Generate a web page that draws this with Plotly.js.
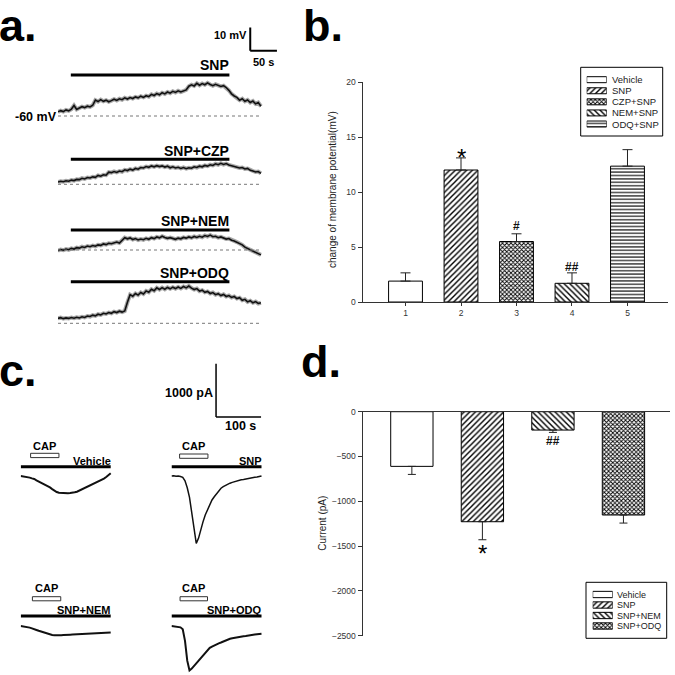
<!DOCTYPE html>
<html><head><meta charset="utf-8">
<script src="https://cdn.plot.ly/plotly-3.0.1.min.js"></script>
<style>html,body{margin:0;padding:0;background:#fff}#chart{width:675px;height:675px}</style>
</head><body><div id="chart"></div>
<script>
// ---------------- DATA ----------------
// Panel b: change of membrane potential (mV), mean and SEM
const bTicks = [1, 2, 3, 4, 5];
const bGroups = ['Vehicle', 'SNP', 'CZP+SNP', 'NEM+SNP', 'ODQ+SNP'];
const bMean = [1.9, 12.0, 5.5, 1.7, 12.35];
const bSem = [0.75, 1.1, 0.7, 0.95, 1.5];
const bSig = ['', '*', '#', '##', ''];

// Panel d: capsaicin-evoked current (pA), mean and SEM
const dTicks = [1, 2, 3, 4];
const dGroups = ['Vehicle', 'SNP', 'SNP+NEM', 'SNP+ODQ'];
const dMean = [-610, -1228, -205, -1153];
const dSem = [90, 201, 26, 90];
const dSig = ['', '*', '##', ''];

// Panel a: membrane potential traces, change from -60 mV (mV), sampled every 5 s
const aSampleInterval = 5;
const aLabels = ['SNP', 'SNP+CZP', 'SNP+NEM', 'SNP+ODQ'];
const aDrugOn = [24, 321]; // s
const aSNP = [1.8,2.3,1.9,2.6,2.2,2.9,4.5,2.8,3.4,4.0,
  3.6,4.2,3.9,4.6,6.8,6.2,7.0,6.3,6.8,6.1,
  6.6,7.2,6.7,7.4,7.0,7.8,7.3,7.9,7.5,8.2,
  7.8,8.5,8.0,8.7,8.3,9.3,8.8,9.6,9.1,10.0,
  9.5,10.3,9.8,10.6,10.1,10.8,10.3,10.6,11.2,12.8,
  13.4,12.9,14.0,13.2,13.9,13.4,14.2,13.5,13.0,13.6,
  13.1,12.7,13.0,12.2,11.0,9.5,8.6,8.0,6.8,7.4,
  6.3,6.9,5.8,6.4,5.2,5.8,4.2];
const aCZP = [1.0,1.3,1.1,1.5,1.3,1.8,1.6,2.1,2.0,2.6,
  2.3,2.9,2.7,3.2,3.0,3.8,3.5,4.1,3.9,5.2,
  5.0,5.5,5.1,5.7,5.4,6.2,5.9,6.5,6.1,6.8,
  6.5,7.2,7.0,7.6,7.3,7.9,7.5,8.0,7.6,7.9,
  7.4,7.8,7.1,7.5,7.0,7.3,6.8,7.2,6.7,7.1,
  6.9,7.5,7.2,7.8,7.5,8.1,7.8,8.4,8.1,8.8,
  8.4,9.0,8.5,8.9,8.3,8.0,7.6,7.3,7.0,7.2,
  6.6,6.8,6.0,5.7,5.3,5.5,4.7];
const aNEM = [-0.3,0.2,-0.1,0.4,0.1,0.7,0.4,1.0,0.8,1.4,
  1.1,1.7,1.4,1.9,1.6,2.2,2.0,2.6,2.3,2.9,
  2.7,3.2,3.4,3.0,4.2,5.3,4.8,5.2,4.5,4.9,
  4.3,4.7,4.4,5.0,4.6,5.3,4.9,5.6,5.2,5.9,
  5.4,5.0,5.3,4.8,4.6,5.1,4.8,5.4,5.1,5.6,
  5.2,5.8,5.4,5.9,5.5,6.2,5.8,6.4,5.7,5.9,
  5.3,5.6,5.0,4.7,4.9,4.2,3.9,3.4,2.9,2.2,
  1.2,0.6,0.1,-0.6,-1.1,-1.6,-2.1];
const aODQ = [2.1,2.4,2.0,2.3,2.1,2.5,2.2,2.6,2.3,2.8,
  2.5,3.1,2.9,3.5,3.2,3.9,3.6,4.3,4.0,4.6,
  4.3,5.0,4.6,5.2,4.8,5.3,9.0,12.3,11.6,12.8,
  12.1,13.2,12.6,13.9,13.3,14.6,14.0,15.2,14.5,15.3,
  14.6,15.4,14.8,15.5,14.9,15.6,15.0,15.8,15.2,16.0,
  15.1,14.5,14.9,13.8,14.2,13.3,13.7,12.8,13.2,12.3,
  12.7,11.9,12.4,11.5,11.9,11.1,11.5,10.6,11.0,9.9,
  10.3,9.2,9.7,8.8,9.3,8.5,8.8];

// Panel c: capsaicin-evoked current traces (pA), sampled every 5 s
const cSampleInterval = 5;
const cLabels = ['Vehicle', 'SNP', 'SNP+NEM', 'SNP+ODQ'];
const cCapStart = [22, 18, 26, 19]; // s
const cCapEnd = [85, 81, 89, 80];   // s
const cBarEnd = 200; // s
const cVehicle = [0,-5,-15,-20,-30,-45,-55,-80,-100,-120,-140,-165,-185,-215,-245,-275,-300,-315,-320,-322,-325,-322,-320,-318,-305,-295,-275,-255,-235,-215,-195,-180,-160,-140,-120,-100,-75,-50,-20,15,50];
const cSNP = [0,5,-5,0,-10,-25,-90,-220,-400,-700,-1000,-1265,-1170,-1000,-860,-730,-630,-530,-450,-390,-330,-280,-230,-200,-175,-150,-135,-120,-105,-95,-85,-70,-65,-55,-45,-40,-35,-25,-20,-10,0];
const cNEM = [0,-5,-10,-20,-30,-45,-55,-75,-90,-105,-120,-135,-150,-160,-170,-175,-178,-176,-172,-168,-170,-165,-162,-160,-158,-155,-156,-152,-150,-151,-148,-146,-144,-142,-140,-137,-135,-132,-130,-128,-124];
const cODQ = [0,-5,-10,-15,-25,-60,-280,-650,-835,-800,-750,-700,-645,-590,-540,-490,-440,-410,-385,-360,-340,-325,-310,-290,-270,-255,-240,-230,-220,-215,-205,-200,-192,-188,-178,-172,-168,-160,-155,-150,-145];

// Scale bars
const aScaleMv = 10, aScaleS = 50;
const cScalePa = 1000, cScaleS = 100;

// ---------------- LAYOUT HELPERS ----------------
const W = 675, H = 675;
const PX = v => v / W;
const PY = v => 1 - v / H;
const FONT = 'Liberation Sans, Arial, Helvetica, sans-serif';

// styles (bar fills)
const bPattern = {shape: ['', '/', 'x', '\\', '-'], size: [6, 4, 3, 4, 3.4], solidity: [0.3, 0.35, 0.5, 0.35, 0.32]};
const dPattern = {shape: ['', '/', '\\', 'x'], size: [6, 4, 4, 3], solidity: [0.3, 0.35, 0.35, 0.5]};

// panel a geometry
const A_PX_PER_S = 0.534, A_PX_PER_MV = 2.33;
const aXpx = [58, 280];
const aYrange = [-4, 40];
const aBase = [116, 184.3, 250, 323.3];
const aBarPy = [75, 159.3, 230, 281.7];
const aLabelPy = [65, 150.7, 221, 273];
function aDomain(base) {
  return [PY(base - aYrange[0] * A_PX_PER_MV), PY(base - aYrange[1] * A_PX_PER_MV)];
}
// panel c geometry
const C_PX_PER_S = 0.45, C_PX_PER_PA = 0.0533;
const cXrange = [0, 205];
const cXleft = [20.7, 171.5];
const cYbase = [476, 626];
const cYranges = [[-1400, 2200], [-900, 300]];
function cDomain(base, r) { return [PY(base - r[0] * C_PX_PER_PA), PY(base - r[1] * C_PX_PER_PA)]; }

const tA = aSNP.map((_, i) => i * aSampleInterval);
const tC = cVehicle.map((_, i) => i * cSampleInterval);

const hidden = {visible: false, fixedrange: true};

const tickFont = {family: FONT, size: 8.5, color: '#333'};
const axisCommon = {showgrid: false, zeroline: false, showline: true, linecolor: '#333', linewidth: 1,
  ticks: 'outside', ticklen: 4, tickcolor: '#333', tickwidth: 1, tickfont: tickFont, fixedrange: true};

// ---------------- TRACES ----------------
const traces = [];
traces.push({type: 'bar', x: bTicks, y: bMean, xaxis: 'x', yaxis: 'y', width: 0.61,
  marker: {color: '#fff', line: {color: '#000', width: 1},
    pattern: {shape: bPattern.shape, size: bPattern.size, solidity: bPattern.solidity, fgcolor: '#000', bgcolor: '#fff', fillmode: 'replace'}},
  error_y: {type: 'data', symmetric: false, array: bSem, arrayminus: bSem.map(() => 0), color: '#222', thickness: 1, width: 5},
  hoverinfo: 'skip'});
traces.push({type: 'bar', x: dTicks, y: dMean, xaxis: 'x2', yaxis: 'y2', width: 0.6,
  marker: {color: '#fff', line: {color: '#000', width: 1},
    pattern: {shape: dPattern.shape, size: dPattern.size, solidity: dPattern.solidity, fgcolor: '#000', bgcolor: '#fff', fillmode: 'replace'}},
  error_y: {type: 'data', symmetric: false, array: dSem.map(() => 0), arrayminus: dSem, color: '#222', thickness: 1, width: 4},
  hoverinfo: 'skip'});
[aSNP, aCZP, aNEM, aODQ].forEach((arr, i) => {
  // soft grey halo (recording noise look) under the black trace
  traces.push({type: 'scatter', mode: 'lines', x: tA, y: arr, xaxis: 'x3', yaxis: 'y' + (3 + i),
    line: {color: 'rgba(60,60,60,0.45)', width: 4}, hoverinfo: 'skip'});
  traces.push({type: 'scatter', mode: 'lines', x: tA, y: arr, xaxis: 'x3', yaxis: 'y' + (3 + i),
    line: {color: '#111', width: 1.6}, hoverinfo: 'skip'});
});
const cSets = [[cVehicle, 'x4', 'y7'], [cSNP, 'x5', 'y7'], [cNEM, 'x4', 'y8'], [cODQ, 'x5', 'y8']];
cSets.forEach(([arr, xa, ya], i) => {
  traces.push({type: 'scatter', mode: 'lines', x: tC, y: arr, xaxis: xa, yaxis: ya,
    line: {color: '#111', width: i === 1 ? 1.5 : 2}, hoverinfo: 'skip'});
});
// legend swatches (b, d)
traces.push({type: 'bar', orientation: 'h', x: bGroups.map(() => 1), y: bGroups, xaxis: 'x6', yaxis: 'y9', width: 0.54,
  marker: {color: '#fff', line: {color: '#000', width: 1},
    pattern: {shape: bPattern.shape, size: bPattern.size, solidity: bPattern.solidity, fgcolor: '#000', bgcolor: '#fff', fillmode: 'replace'}},
  hoverinfo: 'skip'});
traces.push({type: 'bar', orientation: 'h', x: dGroups.map(() => 1), y: dGroups, xaxis: 'x7', yaxis: 'y10', width: 0.6,
  marker: {color: '#fff', line: {color: '#000', width: 1},
    pattern: {shape: dPattern.shape, size: dPattern.size, solidity: dPattern.solidity, fgcolor: '#000', bgcolor: '#fff', fillmode: 'replace'}},
  hoverinfo: 'skip'});

// ---------------- SHAPES ----------------
const shapes = [];
aLabels.forEach((_, i) => {
  shapes.push({type: 'line', xref: 'x3', yref: 'paper', x0: aDrugOn[0], x1: aDrugOn[1], y0: PY(aBarPy[i]), y1: PY(aBarPy[i]), line: {color: '#000', width: 3}});
  shapes.push({type: 'line', xref: 'x3', yref: 'y' + (3 + i), x0: 0, x1: tA[tA.length - 1], y0: 0, y1: 0, line: {color: '#777', width: 1, dash: 'dot'}});
});
// panel a scale bar
const aScaleT = 360, aScaleY = 28;
shapes.push({type: 'line', xref: 'x3', yref: 'y3', x0: aScaleT, x1: aScaleT, y0: aScaleY, y1: aScaleY + aScaleMv, line: {color: '#000', width: 2}});
shapes.push({type: 'line', xref: 'x3', yref: 'y3', x0: aScaleT, x1: aScaleT + aScaleS, y0: aScaleY, y1: aScaleY, line: {color: '#000', width: 2}});
// panel c bars and CAP boxes
const cXref = ['x4', 'x5', 'x4', 'x5'];
const cBarPy = [466.7, 466.7, 616, 616];
const cCapPy = [[453.3, 457.6], [454, 458.3], [596.7, 600.8], [596.7, 600.8]];
cLabels.forEach((_, i) => {
  shapes.push({type: 'line', xref: cXref[i], yref: 'paper', x0: 0, x1: cBarEnd, y0: PY(cBarPy[i]), y1: PY(cBarPy[i]), line: {color: '#000', width: 3}});
  shapes.push({type: 'rect', xref: cXref[i], yref: 'paper', x0: cCapStart[i], x1: cCapEnd[i], y0: PY(cCapPy[i][1]), y1: PY(cCapPy[i][0]), line: {color: '#333', width: 1}, fillcolor: '#fff'});
});
// panel c scale bar
const cScaleT = 99, cScaleY = 1107;
shapes.push({type: 'line', xref: 'x5', yref: 'y7', x0: cScaleT, x1: cScaleT, y0: cScaleY, y1: cScaleY + cScalePa, line: {color: '#000', width: 1.5}});
shapes.push({type: 'line', xref: 'x5', yref: 'y7', x0: cScaleT, x1: cScaleT + cScaleS, y0: cScaleY, y1: cScaleY, line: {color: '#000', width: 1.5}});
// legend boxes
shapes.push({type: 'rect', xref: 'paper', yref: 'paper', x0: PX(580.7), x1: PX(662.7), y0: PY(136), y1: PY(67.3), line: {color: '#000', width: 1}});
shapes.push({type: 'rect', xref: 'paper', yref: 'paper', x0: PX(586), x1: PX(666.7), y0: PY(638.3), y1: PY(582.3), line: {color: '#000', width: 1}});

// ---------------- ANNOTATIONS ----------------
const ann = [];
function txt(o) { return Object.assign({showarrow: false, xref: 'paper', yref: 'paper', xanchor: 'center', yanchor: 'middle'}, o); }
const bold = (s) => ({family: FONT, size: s, color: '#000', weight: 'bold'});
// panel letters (box top at the page edge, baseline near the reference)
const letter = (t, x, yTop) => txt({text: '<b>' + t + '</b>', x: PX(x), y: PY(yTop), xanchor: 'left', yanchor: 'top', borderpad: 0, borderwidth: 0, font: bold(45)});
ann.push(letter('a.', -1, 0));
ann.push(letter('b.', 303, 0));
ann.push(letter('c.', -1, 344.5));
ann.push(letter('d.', 301, 335.5));
// panel a labels
aLabels.forEach((lab, i) => {
  ann.push(txt({text: '<b>' + lab + '</b>', xref: 'x3', x: aDrugOn[1], xanchor: 'right', xshift: 2, y: PY(aLabelPy[i]), font: bold(14)}));
});
ann.push(txt({text: '<b>-60 mV</b>', x: PX(59), xanchor: 'right', yref: 'y3', y: 0, yshift: -1, font: bold(12.5)}));
ann.push(txt({text: '<b>10 mV</b>', x: PX(249), xanchor: 'right', y: PY(35), font: bold(11)}));
ann.push(txt({text: '<b>50 s</b>', x: PX(263.5), y: PY(62), font: bold(11)}));
// panel c labels
cLabels.forEach((lab, i) => {
  ann.push(txt({text: '<b>' + lab + '</b>', xref: cXref[i], x: cBarEnd, xanchor: 'right', xshift: 2, y: PY(i < 2 ? 460.7 : 610), font: bold(11)}));
  ann.push(txt({text: '<b>CAP</b>', xref: cXref[i], x: (cCapStart[i] + cCapEnd[i]) / 2, y: PY(i < 2 ? 445.5 : 588), font: bold(11)}));
});
ann.push(txt({text: '<b>1000 pA</b>', x: PX(215), xanchor: 'right', y: PY(393.3), font: bold(12.5)}));
ann.push(txt({text: '<b>100 s</b>', x: PX(240), y: PY(426), font: bold(12.5)}));
// axis titles
ann.push(txt({text: 'change of membrane potential(mV)', x: PX(333), y: PY(190), textangle: -90, font: {family: FONT, size: 10, color: '#222'}}));
ann.push(txt({text: 'Current (pA)', x: PX(321.7), y: PY(523), textangle: -90, font: {family: FONT, size: 10, color: '#222'}}));
// significance marks
bSig.forEach((s, i) => {
  if (!s) return;
  const star = s === '*';
  ann.push(txt({text: s, xref: 'x', yref: 'y', x: bTicks[i], y: bMean[i] + bSem[i],
    yshift: star ? 0.5 : (i === 2 ? 7.5 : 5.7),
    font: star ? {family: FONT, size: 24, color: '#000'} : {family: FONT, size: 12, color: '#111', weight: 'bold'}}));
});
dSig.forEach((s, i) => {
  if (!s) return;
  const star = s === '*';
  ann.push(txt({text: s, xref: 'x2', yref: 'y2', x: dTicks[i], y: dMean[i] - dSem[i],
    yshift: star ? -13.9 : -8.3,
    font: star ? {family: FONT, size: 24, color: '#000'} : {family: FONT, size: 12, color: '#111', weight: 'bold'}}));
});
// legend labels
bGroups.forEach((g, i) => ann.push(txt({text: g, x: PX(610), xanchor: 'left', yref: 'y9', y: i, font: {family: FONT, size: 9.5, color: '#222'}})));
dGroups.forEach((g, i) => ann.push(txt({text: g, x: PX(615), xanchor: 'left', yref: 'y10', y: i, font: {family: FONT, size: 9, color: '#222'}})));

// ---------------- LAYOUT ----------------
const layout = {
  width: W, height: H, margin: {l: 0, r: 0, t: 0, b: 0, pad: 0},
  paper_bgcolor: '#fff', plot_bgcolor: 'rgba(0,0,0,0)', showlegend: false, hovermode: false,
  font: {family: FONT},
  xaxis: Object.assign({}, axisCommon, {domain: [PX(362.5), PX(668)], range: [0.225, 5.73], anchor: 'y', tickvals: bTicks, ticktext: bTicks.map(String), ticklen: 3}),
  yaxis: Object.assign({}, axisCommon, {domain: [PY(302), PY(82)], range: [0, 20], anchor: 'x', tickvals: [0, 5, 10, 15, 20]}),
  xaxis2: Object.assign({}, axisCommon, {domain: [PX(362.5), PX(670)], range: [0.3, 4.66], anchor: 'y2', side: 'top', ticks: '', showticklabels: false}),
  yaxis2: Object.assign({}, axisCommon, {domain: [PY(635.7), PY(411.7)], range: [-2500, 0], anchor: 'x2', tickvals: [0, -500, -1000, -1500, -2000, -2500]}),
  xaxis3: Object.assign({}, hidden, {domain: [PX(aXpx[0]), PX(aXpx[1])], range: [0, (aXpx[1] - aXpx[0]) / A_PX_PER_S], anchor: 'y3'}),
  yaxis3: Object.assign({}, hidden, {domain: aDomain(aBase[0]), range: aYrange, anchor: 'x3'}),
  yaxis4: Object.assign({}, hidden, {domain: aDomain(aBase[1]), range: aYrange, anchor: 'x3'}),
  yaxis5: Object.assign({}, hidden, {domain: aDomain(aBase[2]), range: aYrange, anchor: 'x3'}),
  yaxis6: Object.assign({}, hidden, {domain: aDomain(aBase[3]), range: aYrange, anchor: 'x3'}),
  xaxis4: Object.assign({}, hidden, {domain: [PX(cXleft[0]), PX(cXleft[0] + (cXrange[1] - cXrange[0]) * C_PX_PER_S)], range: cXrange, anchor: 'y7'}),
  xaxis5: Object.assign({}, hidden, {domain: [PX(cXleft[1]), PX(cXleft[1] + (cXrange[1] - cXrange[0]) * C_PX_PER_S)], range: cXrange, anchor: 'y7'}),
  yaxis7: Object.assign({}, hidden, {domain: cDomain(cYbase[0], cYranges[0]), range: cYranges[0], anchor: 'x4'}),
  yaxis8: Object.assign({}, hidden, {domain: cDomain(cYbase[1], cYranges[1]), range: cYranges[1], anchor: 'x4'}),
  xaxis6: Object.assign({}, hidden, {domain: [PX(586.7), PX(606.7)], range: [0, 1], anchor: 'y9'}),
  yaxis9: Object.assign({}, hidden, {domain: [PY(129.55), PY(74.15)], type: 'category', categoryorder: 'array', categoryarray: bGroups, range: [4.5, -0.5], anchor: 'x6'}),
  xaxis7: Object.assign({}, hidden, {domain: [PX(592.7), PX(612.7)], range: [0, 1], anchor: 'y10'}),
  yaxis10: Object.assign({}, hidden, {domain: [PY(631.25), PY(589.25)], type: 'category', categoryorder: 'array', categoryarray: dGroups, range: [3.5, -0.5], anchor: 'x7'}),
  shapes: shapes,
  annotations: ann
};

Plotly.newPlot('chart', traces, layout, {staticPlot: true, displayModeBar: false});
</script>
</body></html>
